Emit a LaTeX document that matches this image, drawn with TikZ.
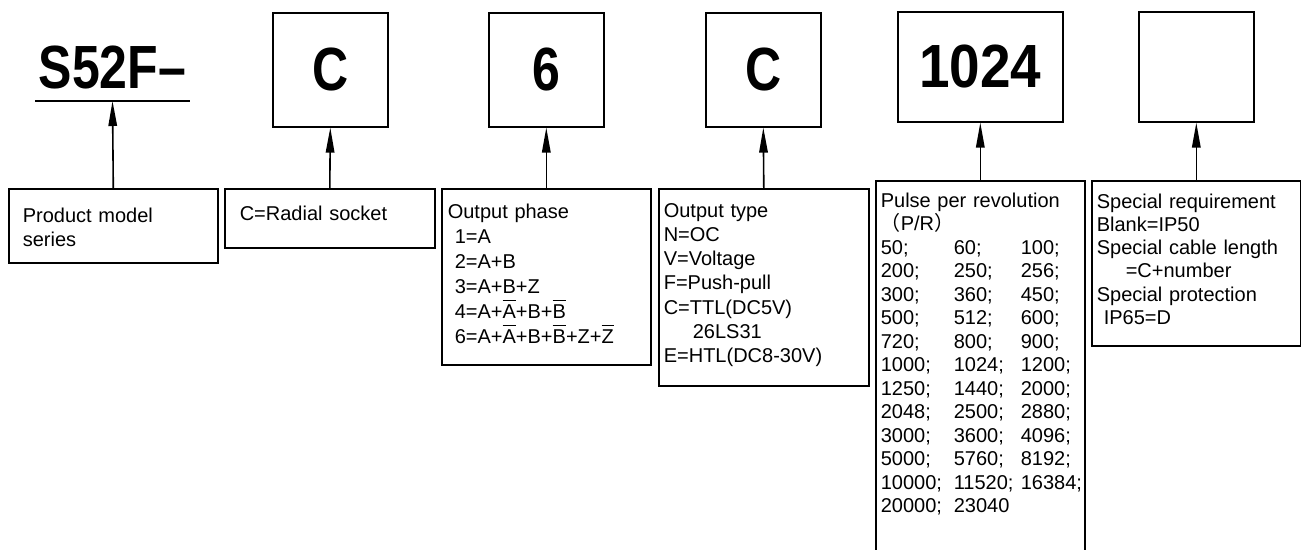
\documentclass[tikz,border=0pt]{standalone}
\usepackage{fontspec}
\setmainfont{Liberation Sans}
\newfontfamily\codefont[FakeStretch=0.82]{Liberation Sans Bold}
\newfontfamily\numfont[FakeStretch=0.9]{Liberation Sans Bold}
\newfontfamily\cjkfont{Noto Sans CJK SC}
\usetikzlibrary{arrows.meta}
\newcommand{\ovl}[1]{\setbox0=\hbox{#1}\rlap{\raisebox{0.84em}{\rule{\wd0}{0.07em}}}\box0}
\newcommand{\pulserow}[3]{\makebox[73pt][l]{#1}\makebox[67pt][l]{#2}#3}

\begin{document}
\begin{tikzpicture}[
        x=1pt, y=-1pt,
        -{Triangle[length=25pt,width=8.5pt]},
        line width=1.6pt,
        codebox/.style ={draw, inner sep=0pt, anchor=north west, font=\codefont\fontsize{61}{61}\selectfont},
        descbox/.style ={draw, inner sep=0pt, anchor=north west},
        desctext/.style ={anchor=base west, inner sep=0pt, text width=205pt, align=left, font=\fontsize{20}{24}\selectfont},
    ]
    \path[use as bounding box, clip] (0,0) rectangle (1301,549);

    % code boxes
    \node[font=\codefont\fontsize{61}{61}\selectfont, inner xsep=0pt, inner ysep=11pt, minimum width=153pt, anchor=south] (series) at (112.5,101) {S52F–};
    \draw[-] (series.south west) -- (series.south east);
    \node[codebox, minimum width=115pt, minimum height=114pt] (socketcode) at (272,12) {C};
    \node[codebox, minimum width=115pt, minimum height=114pt] (phasecode) at (488,12) {6};
    \node[codebox, minimum width=115pt, minimum height=114pt] (typecode) at (705,12) {C};
    \node[codebox, minimum width=165pt, minimum height=110pt, font=\numfont\fontsize{61}{61}\selectfont] (pulsecode) at (897,11) {1024};
    \node[codebox, minimum width=115pt, minimum height=110pt] (speccode) at (1138,11) {};

    % description boxes
    \node[descbox, minimum width=209pt, minimum height=74pt] (model) at (8,188) {};
    \node[descbox, minimum width=210pt, minimum height=59pt] (socket) at (224,188) {};
    \node[descbox, minimum width=209pt, minimum height=176pt] (phase) at (441,188) {};
    \node[descbox, minimum width=210pt, minimum height=197pt] (type) at (658,188) {};
    \node[descbox, minimum width=209pt, minimum height=380pt] (pulse) at (875,180) {};
    \node[descbox, minimum width=209pt, minimum height=165pt] (spec) at (1091,180) {};

    \node[desctext] (modeltext) at ([xshift=14pt,yshift=-34pt]model.north west) {Product model\\series};
    \node[desctext] (sockettext) at ([xshift=15pt,yshift=-32pt]socket.north west) {C=Radial socket};
    \node[desctext, font=\fontsize{20}{25}\selectfont] (phasetext) at ([xshift=6pt,yshift=-30pt]phase.north west) {Output phase\\
        \hspace*{7pt}1=A\\
        \hspace*{7pt}2=A+B\\
        \hspace*{7pt}3=A+B+Z\\
        \hspace*{7pt}4=A+\ovl{A}+B+\ovl{B}\\
        \hspace*{7pt}6=A+\ovl{A}+B+\ovl{B}+Z+\ovl{Z}};
    \node[desctext, font=\fontsize{20}{24.3}\selectfont] (typetext) at ([xshift=5pt,yshift=-29pt]type.north west) {Output type\\
        N=OC\\
        V=Voltage\\
        F=Push-pull\\
        C=TTL(DC5V)\\
        \hspace*{29pt}26LS31\\
        E=HTL(DC8-30V)};
    \node[desctext, font=\fontsize{20}{23.5}\selectfont] (pulsetext) at ([xshift=5pt,yshift=-27pt]pulse.north west) {Pulse per revolution\\
        {\cjkfont （}P/R{\cjkfont ）}\\
        \pulserow{50;}{60;}{100;}\\
        \pulserow{200;}{250;}{256;}\\
        \pulserow{300;}{360;}{450;}\\
        \pulserow{500;}{512;}{600;}\\
        \pulserow{720;}{800;}{900;}\\
        \pulserow{1000;}{1024;}{1200;}\\
        \pulserow{1250;}{1440;}{2000;}\\
        \pulserow{2048;}{2500;}{2880;}\\
        \pulserow{3000;}{3600;}{4096;}\\
        \pulserow{5000;}{5760;}{8192;}\\
        \pulserow{10000;}{11520;}{16384;}\\
        \pulserow{20000;}{23040}{}};
    \node[desctext, font=\fontsize{20}{23.3}\selectfont] (spectext) at ([xshift=5pt,yshift=-28pt]spec.north west) {Special requirement\\
        Blank=IP50\\
        Special cable length\\
        \hspace*{29pt}=C+number\\
        Special protection\\
        \hspace*{7pt}IP65=D};

    \path (model.north) edge (series.south);
    \path (socket.north) edge (socketcode.south);
    \path (phase.north) edge (phasecode.south);
    \path (type.north) edge (typecode.south);
    \path (pulse.north) edge (pulsecode.south);
    \path (spec.north) edge (speccode.south);

\end{tikzpicture}
\end{document}
